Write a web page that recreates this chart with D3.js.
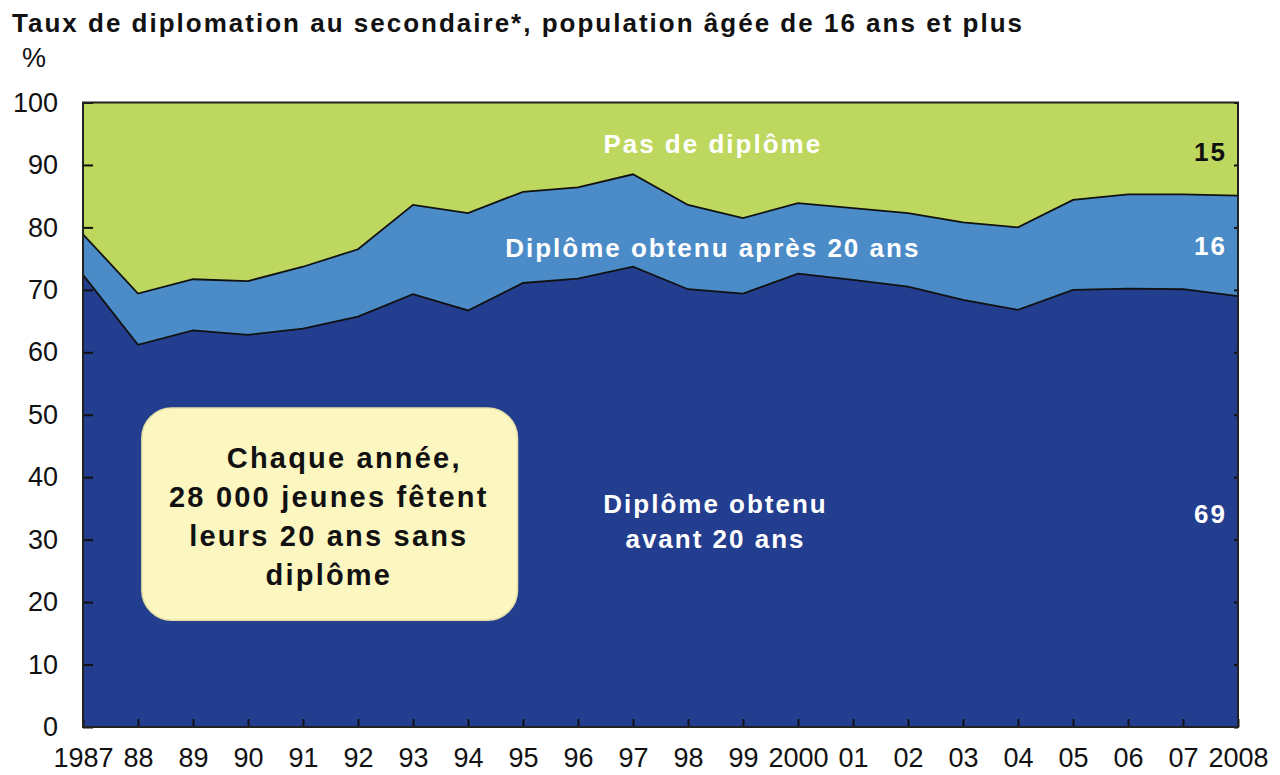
<!DOCTYPE html>
<html>
<head>
<meta charset="utf-8">
<script src="https://cdn.jsdelivr.net/npm/d3@7"></script>
<style>
  body { margin: 0; background: #fff; }
  svg { display: block; font-family: 'Liberation Sans', Arial, sans-serif; }
  .axis text { font-size: 27px; fill: #111; }
  .axis line { stroke: #111; stroke-width: 2; }
  .axis path { display: none; }
</style>
</head>
<body>
<div id="chart"></div>
<script>
'use strict';

// years on the x axis
const years = d3.range(1987, 2009);
const yearLabels = ['1987', '88', '89', '90', '91', '92', '93', '94', '95', '96', '97',
  '98', '99', '2000', '01', '02', '03', '04', '05', '06', '07', '2008'];

// % of population
const avant20 = [72.4, 61.2, 63.5, 62.8, 63.8, 65.7, 69.3, 66.7, 71.1, 71.8, 73.7,
  70.1, 69.4, 72.6, 71.6, 70.5, 68.4, 66.8, 70.0, 70.2, 70.1, 69.0];
const apres20 = [6.5, 8.2, 8.2, 8.6, 9.9, 10.8, 14.3, 15.6, 14.6, 14.6, 14.8,
  13.5, 12.1, 11.3, 11.5, 11.8, 12.4, 13.2, 14.4, 15.1, 15.2, 16.1];
const sansDiplome = [21.1, 30.6, 28.3, 28.6, 26.3, 23.5, 16.4, 17.7, 14.3, 13.6, 11.5,
  16.4, 18.5, 16.1, 16.9, 17.7, 19.2, 20.0, 15.6, 14.7, 14.7, 14.9];

const yTicks = d3.range(0, 101, 10);
const keys = ['avant', 'apres', 'sans'];
const colors = { avant: '#233e8f', apres: '#4a8bc8', sans: '#bed75e' };

const drawChart = () => {
  let width = 1280, height = 775;
  let margin = {top: 102.5, right: 42, bottom: 48, left: 83};

  let svg = d3.select('#chart').append('svg')
    .attr('width', width)
    .attr('height', height);

  let xScale = d3.scaleLinear()
    .domain([1987, 2008])
    .range([margin.left, width - margin.right]);

  let yScale = d3.scaleLinear()
    .domain([0, 100])
    .range([height - margin.bottom, margin.top]);

  //build rows for the stack
  let rows = years.map((yr, i) => ({
    year: yr, avant: avant20[i], apres: apres20[i], sans: sansDiplome[i]
  }));
  let series = d3.stack().keys(keys)(rows);

  let area = d3.area()
    .x(d => xScale(d.data.year))
    .y0(d => yScale(d[0]))
    .y1(d => yScale(Math.min(d[1], 100)));

  svg.append('g').selectAll('path')
    .data(series)
    .join('path')
    .attr('fill', d => colors[d.key])
    .attr('d', area);

  //black outlines on the two inner boundaries
  let line = d3.line()
    .x(d => xScale(d.data.year))
    .y(d => yScale(d[1]));

  svg.append('g').selectAll('path')
    .data(series.slice(0, 2))
    .join('path')
    .attr('fill', 'none')
    .attr('stroke', '#111')
    .attr('stroke-width', 1.8)
    .attr('d', line);

  //axes
  svg.append('g')
    .attr('class', 'axis')
    .attr('transform', 'translate(' + margin.left + ',0)')
    .call(d3.axisLeft(yScale).tickValues(yTicks).tickSize(-10).tickPadding(25));

  svg.append('g')
    .attr('class', 'axis')
    .attr('transform', 'translate(' + (width - margin.right) + ',0)')
    .call(d3.axisRight(yScale).tickValues(yTicks).tickSize(-4).tickFormat(''));

  svg.append('g')
    .attr('class', 'axis')
    .attr('transform', 'translate(0,' + (height - margin.bottom) + ')')
    .call(d3.axisBottom(xScale).tickValues(years).tickSize(-8).tickPadding(21)
      .tickFormat((d, i) => yearLabels[i]));

  //frame
  svg.append('rect')
    .attr('x', xScale(1987))
    .attr('y', yScale(100))
    .attr('width', xScale(2008) - xScale(1987))
    .attr('height', yScale(0) - yScale(100))
    .attr('fill', 'none')
    .attr('stroke', '#222')
    .attr('stroke-width', 2);

  //title and unit
  svg.append('text')
    .attr('x', 12).attr('y', 32)
    .attr('font-size', 26).attr('font-weight', 'bold').attr('fill', '#111')
    .attr('textLength', 1010).attr('lengthAdjust', 'spacing')
    .text('Taux de diplomation au secondaire*, population âgée de 16 ans et plus');

  svg.append('text')
    .attr('x', 22).attr('y', 67)
    .attr('font-size', 27).attr('fill', '#111')
    .text('%');

  //area labels
  let label = (txt, yr, v, color, anchor) => svg.append('text')
    .attr('x', xScale(yr)).attr('y', yScale(v))
    .attr('text-anchor', anchor || 'middle')
    .attr('font-size', 26).attr('font-weight', 'bold')
    .attr('letter-spacing', 2)
    .attr('fill', color)
    .text(txt);

  label('Pas de diplôme', 1998.45, 91.9, '#fff');
  label('Diplôme obtenu après 20 ans', 1998.45, 75.3, '#fff');
  label('Diplôme obtenu', 1998.5, 34.3, '#fff');
  label('avant 20 ans', 1998.5, 28.6, '#fff');
  label('15', 2007.8, 90.6, '#111', 'end');
  label('16', 2007.8, 75.6, '#fff', 'end');
  label('69', 2007.8, 32.7, '#fff', 'end');

  //callout box
  svg.append('rect')
    .attr('x', xScale(1988.07))
    .attr('y', yScale(51.1))
    .attr('width', xScale(1994.9) - xScale(1988.07))
    .attr('height', yScale(17.1) - yScale(51.1))
    .attr('rx', 30)
    .attr('fill', '#fcf6c1')
    .attr('stroke', '#e6dfa6')
    .attr('stroke-width', 1.5);

  let boxLines = [
    ['Chaque année,', 1991.75, 41.4],
    ['28 000 jeunes fêtent', 1991.47, 35.2],
    ['leurs 20 ans sans', 1991.47, 29.0],
    ['diplôme', 1991.47, 22.8]
  ];
  svg.append('g').selectAll('text')
    .data(boxLines)
    .join('text')
    .attr('x', d => xScale(d[1]))
    .attr('y', d => yScale(d[2]))
    .attr('text-anchor', 'middle')
    .attr('font-size', 29).attr('font-weight', 'bold')
    .attr('letter-spacing', 2.2)
    .attr('fill', '#111')
    .text(d => d[0]);
};

drawChart();
</script>
</body>
</html>
